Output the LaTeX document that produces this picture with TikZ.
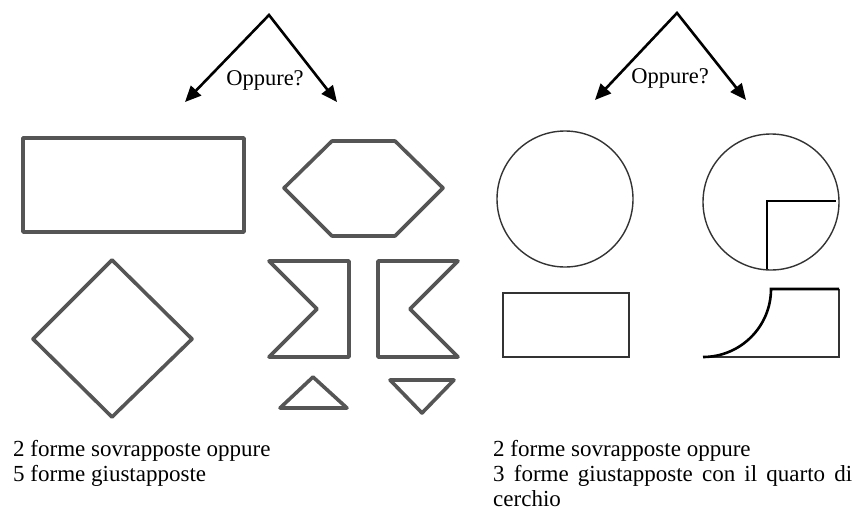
\documentclass[tikz,border=0pt]{standalone}
\usepackage{fontspec}
\setmainfont{Liberation Serif}
\usetikzlibrary{arrows.meta}
\definecolor{shapegray}{HTML}{555555}
\definecolor{linegray}{HTML}{333333}
\begin{document}
\begin{tikzpicture}[x=1pt,y=1pt,
  arr/.style={line width=2.6pt,{Triangle[length=16pt,width=14pt]}-{Triangle[length=16pt,width=14pt]}},
  thickshape/.style={draw=shapegray, line width=3.6pt, line join=round},
  thinshape/.style={draw=linegray, line width=1.4pt},
  blackline/.style={draw=black, line width=2.6pt},
  lbl/.style={font=\fontsize{22.5}{25}\selectfont, inner sep=0pt},
  body/.style={font=\fontsize{23}{24.8}\selectfont, inner sep=0pt}]
\useasboundingbox (0,0) rectangle (854,-509);

% left arrows
\coordinate (lapex) at (269,-15);
\coordinate (ltipL) at (185,-102);
\coordinate (ltipR) at (337,-102);
\draw[arr] (ltipL) -- (lapex) -- (ltipR);
\node[lbl] (lq) at (265,-80) {Oppure?};

% right arrows
\coordinate (rapex) at (677,-13);
\coordinate (rtipL) at (595,-100);
\coordinate (rtipR) at (746,-100);
\draw[arr] (rtipL) -- (rapex) -- (rtipR);
\node[lbl] (rq) at (670,-78) {Oppure?};

% left shapes
\draw[thickshape] (23,-138) rectangle (244,-232);
\draw[thickshape] (112,-260) -- (192,-339) -- (112,-417) -- (33,-339) -- cycle;
\draw[thickshape] (332,-141) -- (395,-141) -- (443,-188) -- (395,-236) -- (332,-236) -- (284,-188) -- cycle;
\draw[thickshape] (269,-261) -- (349,-261) -- (349,-357) -- (269,-357) -- (317,-309) -- cycle;
\draw[thickshape] (378,-261) -- (458,-261) -- (410,-309) -- (458,-357) -- (378,-357) -- cycle;
\draw[thickshape] (313,-377) -- (347,-408) -- (280,-408) -- cycle;
\draw[thickshape] (390,-380) -- (454,-380) -- (422,-413) -- cycle;

% right shapes
\draw[thinshape] (565,-199) circle (68);
\draw[thinshape] (503,-293) rectangle (629,-357);
\draw[thinshape] (771,-202) circle (68);
\draw[blackline] (767,-269) -- (767,-201) -- (836,-201);
\draw[thinshape] (839,-289) -- (839,-357) -- (703,-357);
\draw[blackline] (703,-357) arc[start angle=-90, end angle=0, radius=68] -- (839,-289);

% texts
\node[body, anchor=north west, align=left] (ltext) at (13,-440)
  {2 forme sovrapposte oppure\\5 forme giustapposte};
\node[body, anchor=north west, text width=359pt, align=justify] (rtext) at (493,-440)
  {2 forme sovrapposte oppure\\3 forme giustapposte con il quarto di cerchio};
\end{tikzpicture}
\end{document}
